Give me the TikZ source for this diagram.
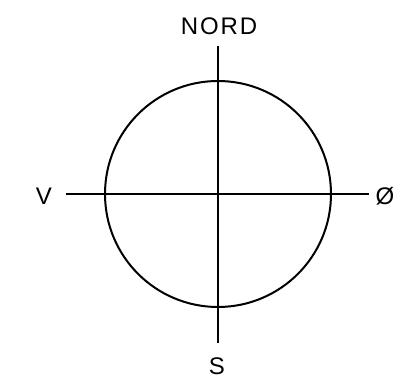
\documentclass[tikz,border=0pt]{standalone}
\usepackage{fontspec}
\setmainfont{Liberation Sans}
\newfontfamily\lblfont[LetterSpace=8]{Liberation Sans}
\tikzset{
  lbl/.style={font=\lblfont\fontsize{24}{24}\selectfont, inner sep=0pt, anchor=center},
  ln/.style={line width=2pt, black}
}
\begin{document}
\begin{tikzpicture}[x=1pt,y=-1pt]
\useasboundingbox (0,0) rectangle (405,382);
\coordinate (c) at (218,194);
\coordinate (top) at (218,46);
\coordinate (bot) at (218,343);
\coordinate (lft) at (66,194);
\coordinate (rgt) at (369,194);
\draw[ln] (c) circle[radius=113];
\draw[ln] (top) -- (bot);
\draw[ln] (lft) -- (rgt);
\node[lbl] (n) at (219,26) {NORD};
\node[lbl] (v) at (44,196) {V};
\node[lbl] (o) at (385,196) {Ø};
\node[lbl] (s) at (217,366) {S};
\end{tikzpicture}
\end{document}
